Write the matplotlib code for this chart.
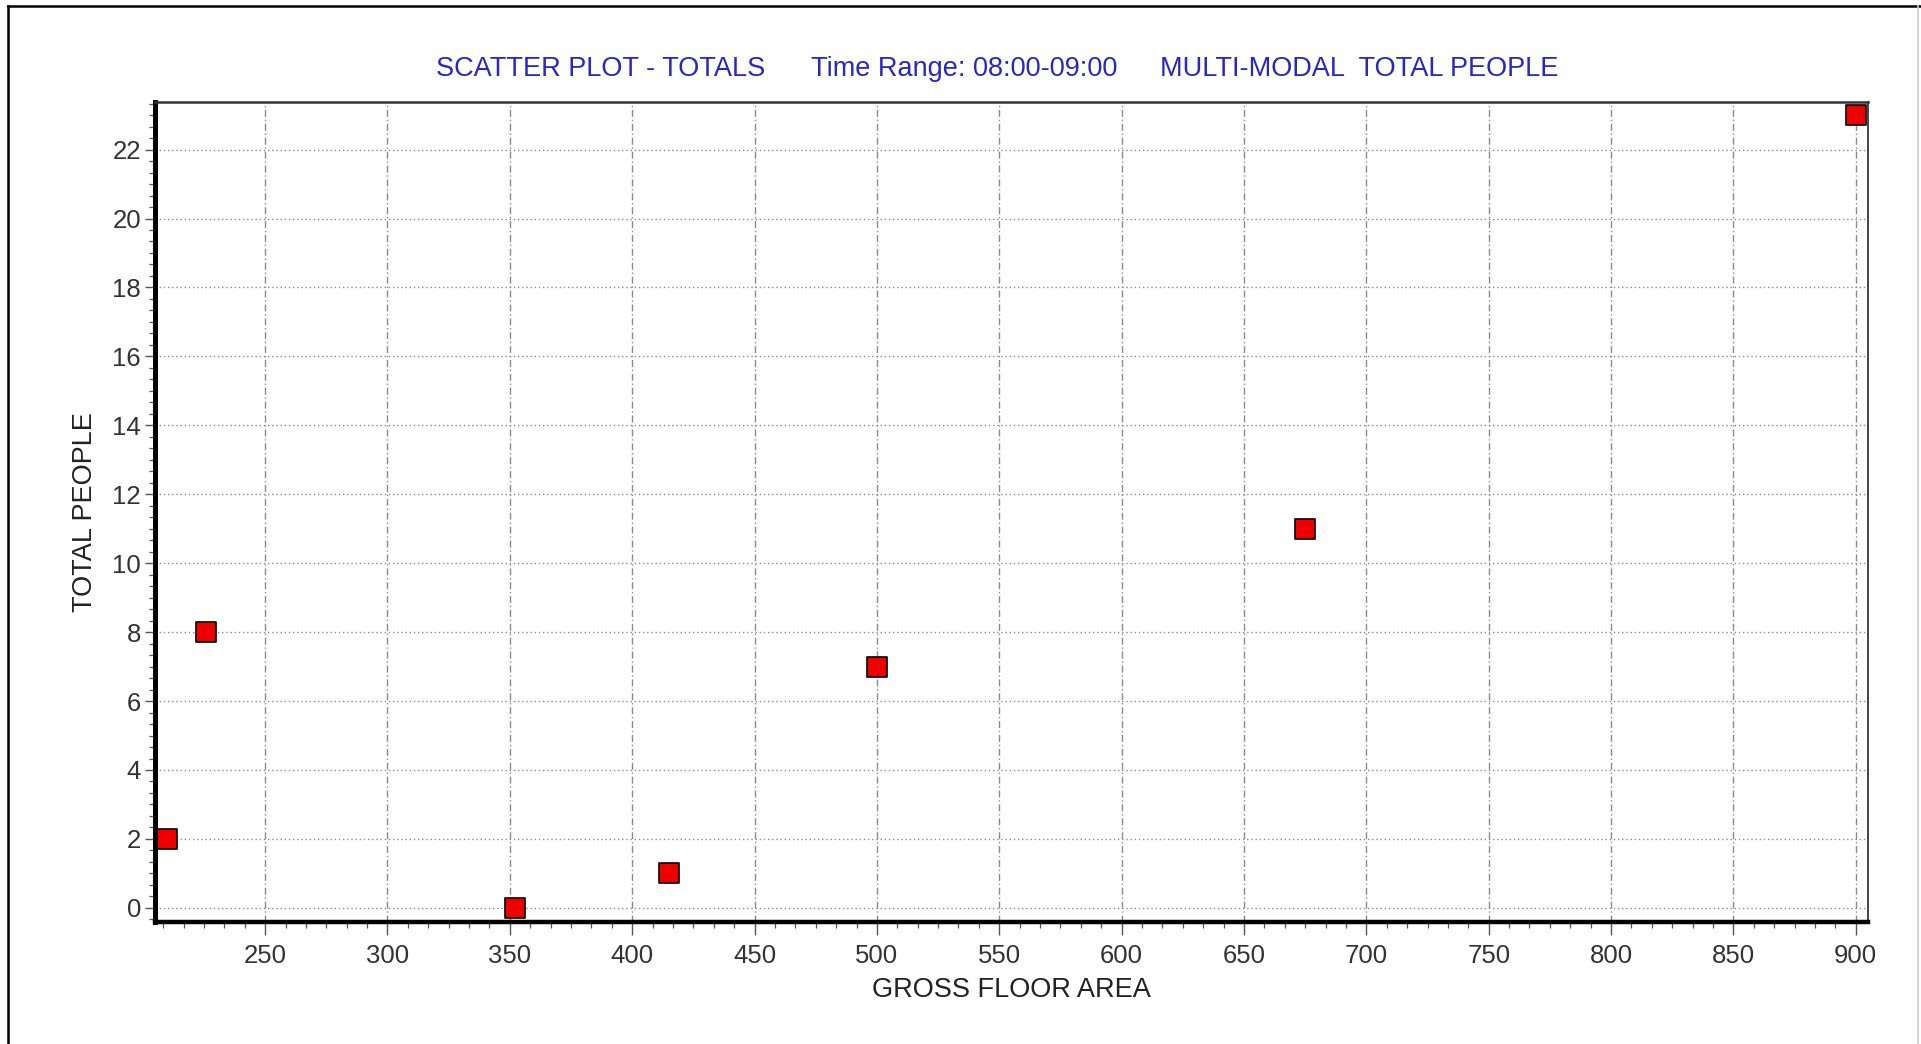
import matplotlib
matplotlib.use("Agg")
import matplotlib.pyplot as plt
from matplotlib.ticker import MultipleLocator, AutoMinorLocator
from matplotlib.lines import Line2D

plt.rcParams['font.family'] = ['Liberation Sans', 'DejaVu Sans']

# ===== data =====
gross_floor_area = [210, 226, 352, 415, 500, 675, 900]
total_people = [2, 8, 0, 1, 7, 11, 23]

title_parts = ["SCATTER PLOT - TOTALS", "Time Range: 08:00-09:00", "MULTI-MODAL  TOTAL PEOPLE"]
x_label = "GROSS FLOOR AREA"
y_label = "TOTAL PEOPLE"

TICK_COLOR = '#333333'
TITLE_COLOR = '#2727C8'
GRID_COLOR = '#8a8a8a'

fig = plt.figure(figsize=(19.21, 10.44), dpi=100)
ax = fig.add_axes([155 / 1921, 1 - 922 / 1044, (1868 - 155) / 1921, (922 - 102) / 1044])

ax.scatter(gross_floor_area, total_people, marker='s', s=14.5 ** 2,
           facecolor='#EE0000', edgecolor='black', linewidth=1.2,
           zorder=5, clip_on=False)

ax.set_xlim(205, 905)
ax.set_ylim(-0.41, 23.38)
ax.xaxis.set_major_locator(MultipleLocator(50))
ax.yaxis.set_major_locator(MultipleLocator(2))
ax.xaxis.set_minor_locator(AutoMinorLocator(6))
ax.yaxis.set_minor_locator(AutoMinorLocator(6))

# grid: dash-dot verticals, dotted horizontals
ax.grid(True, axis='x', which='major', color=GRID_COLOR, linewidth=1.0,
        linestyle=(0, (5, 2, 1, 2)))
ax.grid(True, axis='y', which='major', color=GRID_COLOR, linewidth=1.0,
        linestyle=(0, (1, 2)))
ax.set_axisbelow(True)

ax.tick_params(axis='both', which='major', labelsize=18.5, labelcolor=TICK_COLOR,
               color='#555555', direction='out')
ax.tick_params(axis='x', which='major', length=9.5, width=1.0, pad=6)
ax.tick_params(axis='y', which='major', length=7, width=1.0, pad=3)
ax.tick_params(axis='both', which='minor', length=4.5, width=0.9, color='#555555')

for side, lw, col in [('left', 3.6, 'black'), ('bottom', 3.2, 'black'),
                      ('top', 1.8, '#333333'), ('right', 1.4, '#444444')]:
    ax.spines[side].set_linewidth(lw)
    ax.spines[side].set_color(col)

ax.set_xlabel(x_label, fontsize=19.5, color='#222222', labelpad=7)
ax.set_ylabel(y_label, fontsize=19.5, color='#222222', labelpad=10)

# ---- title in three pieces ----
title_x = [436, 811, 1160]
for txt, px in zip(title_parts, title_x):
    fig.text(px / 1921, 1 - 69 / 1044, txt, fontsize=19.5, color=TITLE_COLOR,
             ha='left', va='center')

# ---- outer frame ----
fig.add_artist(Line2D([8 / 1921, 1], [1 - 6 / 1044, 1 - 6 / 1044], color='black', linewidth=1.8))
fig.add_artist(Line2D([8 / 1921, 8 / 1921], [0, 1 - 6 / 1044], color='black', linewidth=1.8))
fig.add_artist(Line2D([1918 / 1921, 1918 / 1921], [0, 1 - 6 / 1044], color='#cccccc', linewidth=1.2))

plt.savefig("out.png", dpi=100)
